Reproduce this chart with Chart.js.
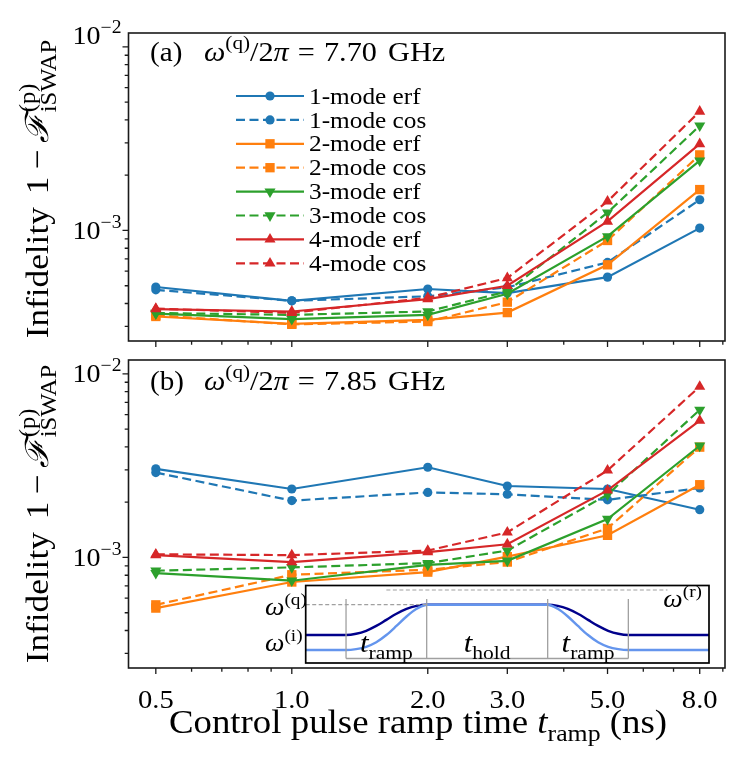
<!DOCTYPE html>
<html><head><meta charset="utf-8">
<script src="https://cdn.jsdelivr.net/npm/chart.js@4.4.1/dist/chart.umd.min.js"></script>
<style>
html,body{margin:0;padding:0;background:#fff;}
#wrap{position:relative;width:745px;height:758px;overflow:hidden;}
canvas{position:absolute;}
</style></head><body>
<div id="wrap">
<canvas id="ca" width="745" height="350" style="left:0;top:0"></canvas>
<canvas id="cb" width="745" height="408" style="left:0;top:350px"></canvas>
<canvas id="ci" width="458" height="88" style="left:256px;top:580px"></canvas>
</div>
<script>
// ---------------- data ----------------
const rampTimes = [0.5, 1, 2, 3, 5, 8];
const xTickValues = [0.5, 1, 2, 3, 5, 8];
const xTickLabels = ['0.5', '1.0', '2.0', '3.0', '5.0', '8.0'];
const xMinorTicks = [0.6, 0.7, 0.8, 0.9, 4, 6, 7, 9];
const yMajorTicks = [1e-3, 1e-2];
const yTickExponents = ['\u22123', '\u22122'];
const yMinorTicks = [3e-4, 4e-4, 5e-4, 6e-4, 7e-4, 8e-4, 9e-4, 2e-3, 3e-3, 4e-3, 5e-3, 6e-3, 7e-3, 8e-3, 9e-3];
const seriesNames = ['1-mode erf', '1-mode cos', '2-mode erf', '2-mode cos', '3-mode erf', '3-mode cos', '4-mode erf', '4-mode cos'];
const panelFreqs = ['7.70', '7.85'];

// panel (a) omega_q/2pi = 7.70 GHz
const a1erf = [4.92e-4, 4.14e-4, 4.80e-4, 4.56e-4, 5.57e-4, 1.03e-3];
const a1cos = [4.75e-4, 4.14e-4, 4.38e-4, 4.90e-4, 6.70e-4, 1.47e-3];
const a2erf = [3.40e-4, 3.10e-4, 3.26e-4, 3.57e-4, 6.50e-4, 1.67e-3];
const a2cos = [3.45e-4, 3.08e-4, 3.19e-4, 4.07e-4, 8.82e-4, 2.58e-3];
const a3erf = [3.52e-4, 3.29e-4, 3.47e-4, 4.52e-4, 9.28e-4, 2.40e-3];
const a3cos = [3.55e-4, 3.47e-4, 3.62e-4, 4.66e-4, 1.25e-3, 3.72e-3];
const a4erf = [3.73e-4, 3.62e-4, 4.23e-4, 5.00e-4, 1.12e-3, 2.96e-3];
const a4cos = [3.75e-4, 3.56e-4, 4.30e-4, 5.51e-4, 1.44e-3, 4.45e-3];

// panel (b) omega_q/2pi = 7.85 GHz
const b1erf = [3.04e-3, 2.36e-3, 3.10e-3, 2.45e-3, 2.36e-3, 1.82e-3];
const b1cos = [2.90e-3, 2.04e-3, 2.26e-3, 2.21e-3, 2.06e-3, 2.39e-3];
const b2erf = [5.30e-4, 7.35e-4, 8.32e-4, 1.01e-3, 1.32e-3, 2.49e-3];
const b2cos = [5.52e-4, 8.05e-4, 8.57e-4, 9.44e-4, 1.44e-3, 3.99e-3];
const b3erf = [8.22e-4, 7.47e-4, 9.12e-4, 9.59e-4, 1.62e-3, 4.06e-3];
const b3cos = [8.47e-4, 8.83e-4, 9.32e-4, 1.09e-3, 2.20e-3, 6.37e-3];
const b4erf = [1.03e-3, 9.44e-4, 1.07e-3, 1.18e-3, 2.32e-3, 5.57e-3];
const b4cos = [1.04e-3, 1.03e-3, 1.09e-3, 1.37e-3, 2.98e-3, 8.53e-3];

// inset schematic (pulse shape)
const insetRampX = [1, 1.25, 1.5, 1.75, 2, 2.25, 2.5, 2.75, 3];
const insetNavyRise = [0, 0.04, 0.14, 0.30, 0.50, 0.70, 0.86, 0.96, 1];
const insetLightRise = [0, 0.02, 0.07, 0.17, 0.33, 0.53, 0.74, 0.91, 1];
const insetLevels = {navyLow: 2.8, lightLow: 1.3, qubit: 5.83, res: 7.3};
const insetMarks = [1, 3, 6, 8];

// ---------------- styling ----------------
const FONT = '"Liberation Serif","DejaVu Serif",serif';
const SX = 1.1;
const C = ['#1f77b4', '#ff7f0e', '#2ca02c', '#d62728'];
const MARK = [['circle', 0, 4.6], ['rect', 0, 6.6], ['triangle', 180, 6.4], ['triangle', 0, 6.4]];
const DASH = [9, 4.5];

function fontOf(size, it) { return (it ? 'italic ' : '') + size.toFixed(2) + 'px ' + FONT; }
function segW(ctx, s, size) {
  if (s.stack) return Math.max(...s.stack.map(q => segW(ctx, q, size)));
  if (s.gap) return s.gap * size;
  ctx.font = fontOf(size * (s.k || 1), s.it);
  return ctx.measureText(s.t).width;
}
function richW(ctx, segs, size) { return segs.reduce((a, s) => a + segW(ctx, s, size), 0) * SX; }
function drawRich(ctx, segs, x, y, size, align, color) {
  const w = richW(ctx, segs, size);
  const x0 = align === 'center' ? x - w / 2 : align === 'right' ? x - w : x;
  ctx.save(); ctx.translate(x0, y); ctx.scale(SX, 1);
  ctx.fillStyle = color || '#000'; ctx.textBaseline = 'alphabetic'; ctx.textAlign = 'left';
  let cx = 0;
  for (const s of segs) {
    const w1 = segW(ctx, s, size);
    const list = s.stack ? s.stack : [s];
    for (const q of list) {
      if (q.gap) continue;
      ctx.font = fontOf(size * (q.k || 1), q.it);
      ctx.fillText(q.t, cx, (q.dy || 0) * size);
    }
    cx += w1;
  }
  ctx.restore();
  return w;
}
const SUB = (t, it) => ({t, k: 0.7, dy: 0.24, it});
const SUP = (t, it) => ({t, k: 0.7, dy: -0.42, it});

function drawMarker(ctx, style, rot, r, x, y, color) {
  ctx.save(); ctx.fillStyle = color; ctx.beginPath();
  if (style === 'circle') ctx.arc(x, y, r, 0, Math.PI * 2);
  else if (style === 'rect') { const s = r * Math.SQRT1_2; ctx.rect(x - s, y - s, 2 * s, 2 * s); }
  else {
    let a = rot * Math.PI / 180;
    for (let k = 0; k < 3; k++) {
      const px = x + Math.sin(a) * r, py = y - Math.cos(a) * r;
      k ? ctx.lineTo(px, py) : ctx.moveTo(px, py); a += 2 * Math.PI / 3;
    }
    ctx.closePath();
  }
  ctx.fill(); ctx.restore();
}

function makeDatasets(list) {
  return list.map((vals, i) => {
    const mode = Math.floor(i / 2), dashed = i % 2 === 1;
    const m = MARK[mode];
    return {
      label: seriesNames[i],
      data: rampTimes.map((x, j) => ({x, y: vals[j]})),
      borderColor: C[mode], backgroundColor: C[mode],
      borderWidth: 2.2, borderDash: dashed ? DASH : [],
      pointStyle: m[0], pointRotation: m[1], pointRadius: m[2], pointHoverRadius: m[2],
      pointBorderWidth: 0, tension: 0, fill: false, order: 20 - i, clip: false
    };
  });
}

const decoPlugin = {
  id: 'deco',
  afterDraw(chart, args, o) {
    const ctx = chart.ctx, ca = chart.chartArea, xs = chart.scales.x, ys = chart.scales.y;
    ctx.save();
    // frame
    ctx.strokeStyle = '#1a1a1a'; ctx.lineWidth = 1.6;
    ctx.strokeRect(ca.left, ca.top, ca.right - ca.left, ca.bottom - ca.top);
    // ticks
    ctx.lineWidth = 1.3;
    ctx.beginPath();
    xTickValues.forEach(v => { const p = xs.getPixelForValue(v); ctx.moveTo(p, ca.bottom); ctx.lineTo(p, ca.bottom + 6); });
    xMinorTicks.forEach(v => { const p = xs.getPixelForValue(v); ctx.moveTo(p, ca.bottom); ctx.lineTo(p, ca.bottom + 3.8); });
    yMajorTicks.forEach(v => { const p = ys.getPixelForValue(v); ctx.moveTo(ca.left, p); ctx.lineTo(ca.left - 6, p); });
    yMinorTicks.forEach(v => { const p = ys.getPixelForValue(v); ctx.moveTo(ca.left, p); ctx.lineTo(ca.left - 3.8, p); });
    ctx.stroke();
    // y tick labels
    yMajorTicks.forEach((v, i) => {
      const p = ys.getPixelForValue(v) + (o.yShift && o.yShift[i] ? o.yShift[i] : 0);
      drawRich(ctx, [{t: '10'}, {t: yTickExponents[i], k: 0.7, dy: -0.45}], ca.left - 7, p + 8.6, 25.5, 'right');
    });
    // x tick labels + title
    if (o.xLabels) {
      xTickValues.forEach((v, i) => drawRich(ctx, [{t: xTickLabels[i]}], xs.getPixelForValue(v), o.xLabelBase, 26, 'center'));
      drawRich(ctx, [{t: 'Control pulse ramp time '}, {t: 't', it: true}, SUB('ramp'), {t: ' (ns)'}], o.xTitleX, o.xTitleBase, 33.5, 'center');
    }
    // y title (rotated)
    ctx.save();
    ctx.translate(o.yTitleBase, o.yTitleCY); ctx.rotate(-Math.PI / 2);
    drawRich(ctx, [{t: 'Infidelity '}, {gap: 0.12}, {t: '1'}, {gap: 0.2}, {t: '\u2212'}, {gap: 0.2},
      {t: '\u2131', it: true}, {gap: 0.05}, {stack: [SUB('iSWAP'), SUP('(p)')]}], 0, 0, 32, 'center');
    ctx.restore();
    // panel label
    drawRich(ctx, [{t: o.label}], 150, o.labelBase, 26.5, 'left');
    drawRich(ctx, [{t: '\u03c9', it: true}, SUP('(q)'), {t: '/2'}, {t: '\u03c0', it: true}, {gap: 0.3}, {t: '='}, {gap: 0.3}, {t: o.freq}, {gap: 0.12}, {t: ' GHz'}],
      204, o.labelBase, 27.5, 'left');
    // legend
    if (o.legend) {
      chart.data.datasets.forEach((ds, i) => {
        const y = 96 + i * 23.9;
        ctx.save();
        ctx.strokeStyle = ds.borderColor; ctx.lineWidth = ds.borderWidth; ctx.setLineDash(ds.borderDash);
        ctx.beginPath(); ctx.moveTo(236, y); ctx.lineTo(304, y); ctx.stroke();
        ctx.restore();
        drawMarker(ctx, ds.pointStyle, ds.pointRotation, ds.pointRadius, 270, y, ds.backgroundColor);
        drawRich(ctx, [{t: ds.label}], 309, y + 7.6, 23, 'left');
      });
    }
    ctx.restore();
  }
};

function mainChart(id, lists, pad, deco) {
  return new Chart(document.getElementById(id), {
    type: 'line',
    data: {datasets: makeDatasets(lists)},
    options: {
      responsive: false, animation: false, events: [],
      layout: {padding: pad},
      scales: {
        x: {type: 'logarithmic', min: 0.435, max: 9.10, display: false},
        y: {type: 'logarithmic', min: 2.5e-4, max: 1.19e-2, display: false}
      },
      plugins: {legend: {display: false}, tooltip: {enabled: false}, deco}
    },
    plugins: [decoPlugin]
  });
}

mainChart('ca', [a1erf, a1cos, a2erf, a2cos, a3erf, a3cos, a4erf, a4cos],
  {left: 128.5, right: 20, top: 33, bottom: 9},
  {label: '(a)', freq: panelFreqs[0], legend: true, xLabels: false, yShift: [0, -11], labelBase: 61, yTitleBase: 48, yTitleCY: 189});
mainChart('cb', [b1erf, b1cos, b2erf, b2cos, b3erf, b3cos, b4erf, b4cos],
  {left: 128.5, right: 20, top: 10, bottom: 90},
  {label: '(b)', freq: panelFreqs[1], legend: false, xLabels: true, yShift: [0, 0], labelBase: 40, yTitleBase: 48, yTitleCY: 164,
   xLabelBase: 358, xTitleX: 418, xTitleBase: 383});

// ---------------- inset ----------------
function pulse(rise, low) {
  const hi = insetLevels.qubit, pts = [{x: 0, y: low}];
  insetRampX.forEach((x, i) => pts.push({x, y: low + rise[i] * (hi - low)}));
  insetRampX.forEach((x, i) => pts.push({x: x + 5, y: low + rise[rise.length - 1 - i] * (hi - low)}));
  pts.push({x: 10, y: low});
  return pts;
}
const grey = '#a0a0a0';
const insetSets = [
  {data: [{x: 0, y: insetLevels.qubit}, {x: 3, y: insetLevels.qubit}], borderColor: grey, borderWidth: 1.2, borderDash: [4, 2.5]},
  {data: [{x: 2, y: insetLevels.res}, {x: 8.97, y: insetLevels.res}], borderColor: grey, borderWidth: 1.2, borderDash: [4, 2.5]},
  {data: [{x: 1, y: 0.45}, {x: 8, y: 0.45}], borderColor: grey, borderWidth: 1.3},
  ...insetMarks.map(m => ({data: [{x: m, y: 0.45}, {x: m, y: 6.4}], borderColor: grey, borderWidth: 1.3})),
  {data: pulse(insetLightRise, insetLevels.lightLow), borderColor: '#6495ed', borderWidth: 2.4, cubicInterpolationMode: 'monotone'},
  {data: pulse(insetNavyRise, insetLevels.navyLow), borderColor: '#00008b', borderWidth: 2.4, cubicInterpolationMode: 'monotone'}
].map(d => Object.assign({pointRadius: 0, fill: false, tension: 0}, d));

const insetPlugin = {
  id: 'insetDeco',
  beforeDraw(chart) {
    const ctx = chart.ctx, ca = chart.chartArea;
    ctx.save(); ctx.fillStyle = '#fff'; ctx.fillRect(ca.left, ca.top, ca.right - ca.left, ca.bottom - ca.top); ctx.restore();
  },
  afterDraw(chart) {
    const ctx = chart.ctx, ca = chart.chartArea, xs = chart.scales.x, ys = chart.scales.y;
    ctx.save();
    ctx.strokeStyle = '#000'; ctx.lineWidth = 1.7;
    ctx.strokeRect(ca.left, ca.top, ca.right - ca.left, ca.bottom - ca.top);
    const tb = ys.getPixelForValue(1.1);
    drawRich(ctx, [{t: 't', it: true}, SUB('ramp')], xs.getPixelForValue(2), tb, 28, 'center');
    drawRich(ctx, [{t: 't', it: true}, SUB('hold')], xs.getPixelForValue(4.5), tb, 28, 'center');
    drawRich(ctx, [{t: 't', it: true}, SUB('ramp')], xs.getPixelForValue(7), tb, 28, 'center');
    drawRich(ctx, [{t: '\u03c9', it: true}, SUP('(r)')], ca.right - 7, ys.getPixelForValue(5.6), 25, 'right');
    drawRich(ctx, [{t: '\u03c9', it: true}, SUP('(q)')], 9, ys.getPixelForValue(4.8), 25, 'left');
    drawRich(ctx, [{t: '\u03c9', it: true}, SUP('(i)')], 9, ys.getPixelForValue(1.2), 25, 'left');
    ctx.restore();
  }
};

new Chart(document.getElementById('ci'), {
  type: 'line',
  data: {datasets: insetSets},
  options: {
    responsive: false, animation: false, events: [],
    layout: {padding: {left: 49.7, right: 5, top: 5.5, bottom: 5}},
    scales: {x: {type: 'linear', min: 0, max: 10, display: false}, y: {type: 'linear', min: 0, max: 7.75, display: false}},
    plugins: {legend: {display: false}, tooltip: {enabled: false}}
  },
  plugins: [insetPlugin]
});
</script>
</body></html>
